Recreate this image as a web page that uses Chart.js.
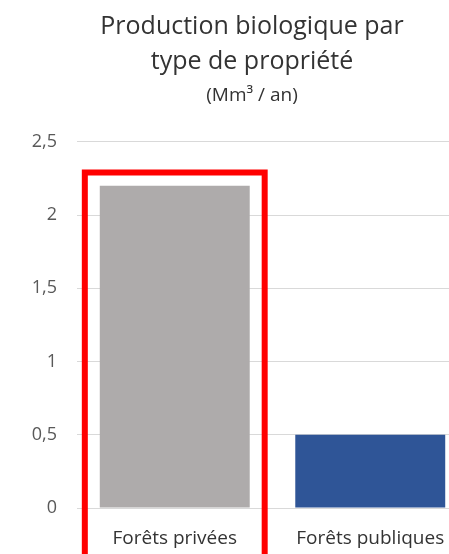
<!DOCTYPE html>
<html>
<head>
<meta charset="utf-8">
<script src="https://cdn.jsdelivr.net/npm/chart.js@4/dist/chart.umd.min.js"></script>
<style>
html, body { margin: 0; padding: 0; background: #fff; overflow: hidden; }
#wrap { width: 504px; height: 554px; }
</style>
</head>
<body>
<div id="wrap"><canvas id="chart" width="504" height="554"></canvas></div>
<script>
const categories = ['Forêts privées', 'Forêts publiques'];
const production = [2.2, 0.5];
const barColors = ['#AEABAB', '#2F5597'];
const titleLines = ['Production biologique par', 'type de propriété'];
const subtitleText = '(Mm³ / an)';

// red frame around the first bar
const redFrame = {
  id: 'redFrame',
  afterDatasetsDraw(chart) {
    const x = chart.scales.x, y = chart.scales.y;
    const c = x.getPixelForValue(0);
    const half = (x.getPixelForValue(1) - c) * 0.46;
    const top = y.getPixelForValue(2.29);
    const ctx = chart.ctx;
    ctx.save();
    ctx.strokeStyle = '#FF0000';
    ctx.lineWidth = 6;
    ctx.beginPath();
    ctx.moveTo(c - half, chart.height + 10);
    ctx.lineTo(c - half, top);
    ctx.lineTo(c + half, top);
    ctx.lineTo(c + half, chart.height + 10);
    ctx.stroke();
    ctx.restore();
  }
};

const data = {
  labels: categories,
  datasets: [{
    data: production,
    backgroundColor: barColors,
    categoryPercentage: 1,
    barPercentage: 0.767
  }]
};

const config = {
  type: 'bar',
  data: data,
  options: {
    responsive: false,
    animation: false,
    layout: { padding: 0 },
    plugins: {
      legend: { display: false },
      tooltip: { enabled: false },
      title: {
        display: true,
        text: titleLines,
        color: '#333333',
        font: { family: 'Open Sans', size: 25, weight: 'normal', lineHeight: 1.4 },
        padding: { top: 9, bottom: 5 }
      },
      subtitle: {
        display: true,
        text: subtitleText,
        color: '#333333',
        font: { family: 'Open Sans', size: 19, weight: 'normal', lineHeight: 1.2 },
        padding: { top: 0, bottom: 35 }
      }
    },
    scales: {
      x: {
        grid: { display: false, drawTicks: false },
        border: { display: false },
        ticks: { color: '#333333', font: { family: 'Open Sans', size: 19 }, padding: 19 },
        afterFit(scale) { scale.height = 46; }
      },
      y: {
        min: 0,
        max: 2.5,
        grid: { color: '#D9D9D9', drawTicks: false, lineWidth: 1 },
        border: { display: false },
        ticks: {
          stepSize: 0.5,
          color: '#595959',
          font: { family: 'Open Sans', size: 18 },
          padding: 20,
          callback: v => String(v).replace('.', ',')
        },
        afterFit(scale) { scale.width = 77; }
      },
      // empty right-hand axis, only reserves space so the plot ends where the original one does
      yRight: {
        position: 'right',
        min: 0,
        max: 2.5,
        grid: { display: false, drawTicks: false },
        border: { display: false },
        ticks: { display: false },
        afterFit(scale) { scale.width = 36; }
      }
    }
  },
  plugins: [redFrame]
};

let ctx = document.getElementById('chart').getContext('2d');
new Chart(ctx, config);
</script>
</body>
</html>
